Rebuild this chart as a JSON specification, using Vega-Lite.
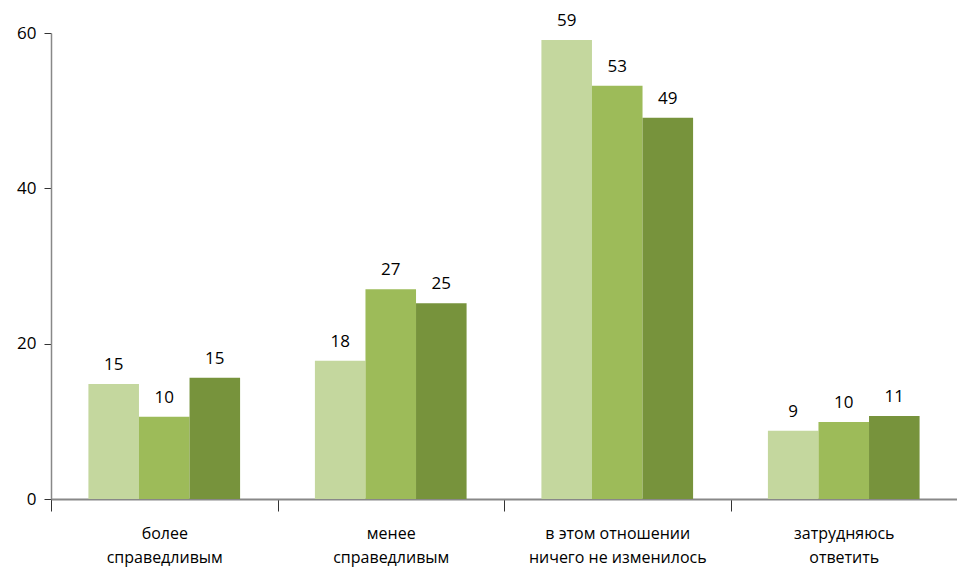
{
  "$schema": "https://vega.github.io/schema/vega-lite/v6.json",
  "autosize": {"type": "none"},
  "width": 906,
  "height": 466,
  "padding": {"left": 51, "top": 33, "right": 0, "bottom": 71},
  "background": "white",
  "config": {"view": {"stroke": null}, "font": "Open Sans"},
  "data": {"values": [
    {"cat": "более|справедливым", "series": "1", "value": 14.8, "label": "15"},
    {"cat": "более|справедливым", "series": "2", "value": 10.6, "label": "10"},
    {"cat": "более|справедливым", "series": "3", "value": 15.6, "label": "15"},
    {"cat": "менее|справедливым", "series": "1", "value": 17.8, "label": "18"},
    {"cat": "менее|справедливым", "series": "2", "value": 27.0, "label": "27"},
    {"cat": "менее|справедливым", "series": "3", "value": 25.2, "label": "25"},
    {"cat": "в этом отношении|ничего не изменилось", "series": "1", "value": 59.1, "label": "59"},
    {"cat": "в этом отношении|ничего не изменилось", "series": "2", "value": 53.2, "label": "53"},
    {"cat": "в этом отношении|ничего не изменилось", "series": "3", "value": 49.1, "label": "49"},
    {"cat": "затрудняюсь|ответить", "series": "1", "value": 8.8, "label": "9"},
    {"cat": "затрудняюсь|ответить", "series": "2", "value": 9.9, "label": "10"},
    {"cat": "затрудняюсь|ответить", "series": "3", "value": 10.7, "label": "11"}
  ]},
  "encoding": {
    "x": {
      "field": "cat", "type": "nominal", "sort": null,
      "scale": {"paddingInner": 0, "paddingOuter": 0},
      "axis": {
        "title": null, "labelAngle": 0, "tickBand": "extent",
        "labelExpr": "isValid(datum.value) ? split(datum.value, '|') : ''",
        "labelFont": "Open Sans", "labelFontSize": 16, "labelFontWeight": 500, "labelColor": "#000",
        "labelLineHeight": 24, "labelPadding": 14, "labelBaseline": "top",
        "tickSize": 12, "tickColor": "#333", "domainColor": "#888", "domainWidth": 2
      }
    },
    "xOffset": {"field": "series", "type": "nominal", "scale": {"paddingInner": 0, "paddingOuter": 0.74}},
    "y": {
      "field": "value", "type": "quantitative",
      "scale": {"domain": [0, 60], "nice": false},
      "axis": {
        "title": null, "values": [0, 20, 40, 60], "grid": false,
        "labelFont": "Open Sans", "labelFontSize": 17, "labelFontWeight": 500, "labelColor": "#000",
        "labelPadding": 8, "tickSize": 7, "tickColor": "#333", "domainColor": "#888", "domainWidth": 1.5
      }
    }
  },
  "layer": [
    {
      "mark": {"type": "bar"},
      "encoding": {
        "color": {"field": "series", "type": "nominal", "legend": null,
          "scale": {"domain": ["1", "2", "3"], "range": ["#C4D79E", "#9DBB59", "#77933C"]}}
      }
    },
    {
      "mark": {"type": "text", "baseline": "bottom", "dy": -10, "fontSize": 17, "fontWeight": 500, "font": "Open Sans", "color": "#000"},
      "encoding": {"text": {"field": "label"}}
    }
  ]
}
